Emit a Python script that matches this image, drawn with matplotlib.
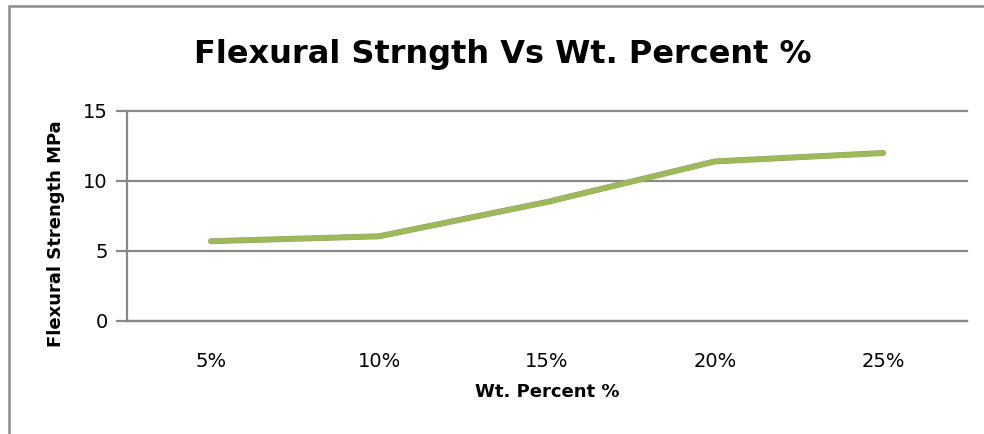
import matplotlib
matplotlib.use("Agg")
import matplotlib.pyplot as plt
import matplotlib.patheffects as pe
from matplotlib.patches import Rectangle

# chart data
categories = ["5%", "10%", "15%", "20%", "25%"]
strength = [5.7, 6.05, 8.5, 11.4, 12.0]
y_ticks = [0, 5, 10, 15]

plt.rcParams["font.family"] = ["DejaVu Sans"]

fig = plt.figure(figsize=(9.84, 4.34), dpi=100)
ax = fig.add_axes([127 / 984, 1 - 321 / 434, 840 / 984, 210 / 434])

x = range(len(categories))
ax.plot(x, strength, color="#9BBB59", linewidth=3.6, solid_capstyle="round",
        solid_joinstyle="round",
        path_effects=[pe.Stroke(linewidth=4.3, foreground="#A39C6E"), pe.Normal()],
        zorder=3)

ax.set_xlim(-0.5, len(categories) - 0.5)
ax.set_ylim(0, 15)
ax.set_xticks(list(x))
ax.set_xticklabels(categories)
ax.set_yticks(y_ticks)

grid_col = "#888888"
ax.grid(axis="y", color=grid_col, linewidth=1.6)
for gl in ax.get_ygridlines():
    gl.set_clip_on(False)
ax.set_axisbelow(True)
for s in ["top", "right"]:
    ax.spines[s].set_visible(False)
ax.spines["left"].set_color(grid_col)
ax.spines["left"].set_linewidth(1.6)
ax.spines["bottom"].set_color(grid_col)
ax.spines["bottom"].set_linewidth(1.6)
ax.tick_params(axis="y", direction="out", length=8, width=1.6, color=grid_col,
               labelsize=14, pad=6)
ax.tick_params(axis="x", length=0, labelsize=14, pad=22)

fig.text(503 / 984, 1 - 54 / 434, "Flexural Strngth Vs Wt. Percent %",
         ha="center", va="center", fontsize=23, fontweight="bold")
fig.text(547 / 984, 1 - 392 / 434, "Wt. Percent %", ha="center", va="center",
         fontsize=13, fontweight="bold")
fig.text(56 / 984, 1 - 234 / 434, "Flexural Strength MPa", ha="center",
         va="center", rotation=90, fontsize=13, fontweight="bold")

# outer chart border (right and bottom edges fall outside the picture)
fig.patches.append(Rectangle((9 / 984, -0.1), 1.2, 1 - 6 / 434 + 0.1,
                             transform=fig.transFigure, fill=False,
                             edgecolor="#8C8C8C", linewidth=1.8))

fig.savefig("out.png", dpi=100)
